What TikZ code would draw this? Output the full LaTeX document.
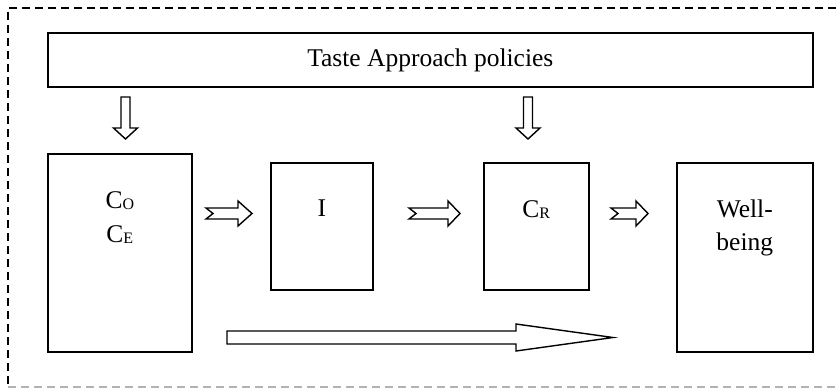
\documentclass[tikz,border=0pt]{standalone}
\usepackage{fontspec}
\setmainfont{Liberation Serif}
\newcommand\smsub[1]{{\fontsize{16}{16}\selectfont\raisebox{-1.5pt}{#1}}}
\begin{document}
\begin{tikzpicture}[x=1pt,y=-1pt,
  box/.style={draw,line width=1.6pt,inner sep=0pt,anchor=north west},
  lab/.style={inner sep=0pt,font=\fontsize{25.5}{33}\selectfont,align=center},
  blockarrow/.style={draw,line width=1.4pt,fill=white,line join=miter},
  frame/.style={line width=1.3pt,dash pattern=on 8pt off 5pt}]
\useasboundingbox (0,0) rectangle (836,388);
% frame
\draw[frame] (836,8) -- (8,8) -- (8,387);
\draw[frame,gray!60] (8,387) -- (836,387);
% boxes
\node[box,minimum width=765pt,minimum height=54pt] (tap) at (47,32) {};
\node[box,minimum width=144pt,minimum height=198pt] (c) at (47,153) {};
\node[box,minimum width=102pt,minimum height=127pt] (i) at (270,162) {};
\node[box,minimum width=105pt,minimum height=127pt] (cr) at (483,162) {};
\node[box,minimum width=136pt,minimum height=189pt] (wb) at (676,162) {};
% labels
\node[lab] (taptext) at ([yshift=-1pt]tap.center) {Taste Approach policies};
\node[lab,anchor=base] (cotext) at ([yshift=-55pt]c.north) {C\smsub{O}};
\node[lab,anchor=base] (cetext) at ([yshift=-34pt]cotext.base) {C\smsub{E}};
\node[lab,anchor=base] (itext) at ([yshift=-54pt]i.north) {I};
\node[lab,anchor=base] (crtext) at ([yshift=-55pt]cr.north) {C\smsub{R}};
\node[lab,anchor=base] (wbtext) at ([yshift=-55pt]wb.north) {Well-};
\node[lab,anchor=base] (wbtext2) at ([yshift=-33pt]wbtext.base) {being};
% down arrows
\draw[blockarrow] (121,97) -- (130,97) -- (130,128) -- (137.5,128) -- (125.5,139) -- (113.5,128) -- (121,128) -- cycle;
\draw[blockarrow] (523.5,97) -- (532.5,97) -- (532.5,128) -- (540,128) -- (528,139) -- (516,128) -- (523.5,128) -- cycle;
% notched right arrows
\draw[blockarrow] (206,208) -- (238,208) -- (238,201) -- (252,213.5) -- (238,226) -- (238,219) -- (206,219) -- (213,213.5) -- cycle;
\draw[blockarrow] (409,208) -- (448,208) -- (448,201) -- (460,213.5) -- (448,226) -- (448,219) -- (409,219) -- (416,213.5) -- cycle;
\draw[blockarrow] (611,208) -- (636,208) -- (636,201) -- (648,213.5) -- (636,226) -- (636,219) -- (611,219) -- (618,213.5) -- cycle;
% long arrow
\draw[blockarrow] (227,331) -- (516,331) -- (516,324) -- (613,337.5) -- (516,351) -- (516,344) -- (227,344) -- cycle;
\end{tikzpicture}
\end{document}
